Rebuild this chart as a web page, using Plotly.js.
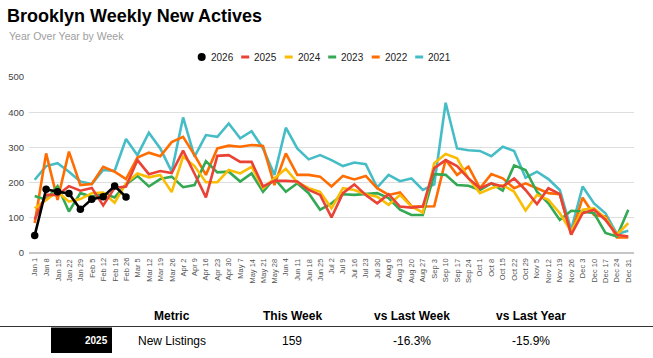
<!DOCTYPE html>
<html><head><meta charset="utf-8">
<script src="https://cdn.plot.ly/plotly-3.0.1.min.js"></script>
<style>html,body{margin:0;padding:0;background:#fff;}#chart{width:653px;height:358px;}</style>
</head><body><div id="chart"></div>
<script>
const weeks = ['Jan 1','Jan 8','Jan 15','Jan 22','Jan 29','Feb 5','Feb 12','Feb 19','Feb 26','Mar 5','Mar 12','Mar 19','Mar 26','Apr 2','Apr 9','Apr 16','Apr 23','Apr 30','May 7','May 14','May 21','May 28','Jun 4','Jun 11','Jun 18','Jun 25','Jul 2','Jul 9','Jul 16','Jul 23','Jul 30','Aug 6','Aug 13','Aug 20','Aug 27','Sep 3','Sep 10','Sep 17','Sep 24','Oct 1','Oct 8','Oct 15','Oct 22','Oct 29','Nov 5','Nov 12','Nov 19','Nov 26','Dec 3','Dec 10','Dec 17','Dec 24','Dec 31'];

const y2026 = [50,181,174,169,124,153,160,190,159];
const y2025 = [95,165,165,190,177,185,135,185,189,264,224,233,227,291,225,158,276,278,259,259,189,205,205,203,179,165,101,170,195,165,141,167,132,129,132,241,264,247,212,184,198,189,212,179,139,184,167,52,113,123,94,52,47];
const y2024 = [127,151,174,146,153,170,172,143,198,226,215,222,173,274,247,201,201,236,226,245,184,212,239,201,184,174,127,184,179,167,160,137,165,132,115,255,281,269,212,170,184,193,174,121,165,151,113,61,123,127,99,52,85];
const y2023 = [162,151,190,118,170,160,170,158,195,219,189,210,217,187,193,261,229,231,203,226,174,212,174,198,170,123,141,167,165,167,170,156,123,108,108,224,222,193,191,179,198,177,249,236,174,141,94,120,118,113,57,47,123];
const y2022 = [85,283,151,288,193,196,245,231,210,271,285,275,315,330,278,222,297,305,302,307,304,193,283,222,222,217,189,219,209,219,184,165,172,133,132,133,265,222,245,184,224,212,184,198,184,170,167,52,157,108,104,44,44];
const y2021 = [208,247,255,231,203,196,236,233,324,278,342,297,231,385,274,335,330,368,326,346,297,222,356,297,266,278,264,247,257,252,186,222,204,212,179,195,427,297,292,290,275,302,290,214,231,210,179,66,189,141,113,54,63];

const seriesNames = ['2026','2025','2024','2023','2022','2021'];
const seriesValues = [y2026,y2025,y2024,y2023,y2022,y2021];
const seriesColors = ['#000000','#EA4335','#FBBC04','#34A853','#FF6D01','#46BDC6'];

const tableHeaders = ['Metric','This Week','vs Last Week','vs Last Year'];
const tableRowLabel = '2025';
const tableRow = ['New Listings','159','-16.3%','-15.9%'];

const W = 653, H = 358, mL = 29, mR = 19, mT = 77, mB = 105;
const pW = W - mL - mR, pH = H - mT - mB;
const px = x => (x - mL) / pW;
const py = y => 1 - (y - mT) / pH;

const traces = [];
for (let i = seriesNames.length - 1; i >= 0; i--) {
  const vals = seriesValues[i];
  const xs = weeks.slice(0, vals.length);
  if (i === 0) {
    traces.push({x: xs, y: vals, type: 'scatter', mode: 'lines+markers', name: seriesNames[i],
      line: {color: seriesColors[i], width: 2.6}, marker: {color: seriesColors[i], size: 7.5}, showlegend: false});
  } else {
    traces.push({x: xs, y: vals, type: 'scatter', mode: 'lines', name: seriesNames[i],
      line: {color: seriesColors[i], width: 2.6}, showlegend: false});
  }
}

const shapes = [];
const annotations = [];
seriesNames.forEach((n, i) => {
  const cx = 201.7 + 43.5 * i, cy = 57;
  if (i === 0) {
    shapes.push({type: 'circle', xref: 'paper', yref: 'paper', x0: px(cx - 4), x1: px(cx + 4), y0: py(cy + 4), y1: py(cy - 4),
      fillcolor: seriesColors[i], line: {width: 0}});
  } else {
    shapes.push({type: 'line', xref: 'paper', yref: 'paper', x0: px(cx - 4), x1: px(cx + 4), y0: py(cy), y1: py(cy),
      line: {color: seriesColors[i], width: 3}});
  }
  annotations.push({text: n, xref: 'paper', yref: 'paper', x: px(cx + 7), y: py(cy), xanchor: 'left', yanchor: 'middle',
    showarrow: false, font: {family: 'Liberation Sans, Arial, sans-serif', size: 10, color: '#222'}});
});

// x-axis week labels, placed on the category axis scale (one per week)
weeks.forEach(w => {
  annotations.push({text: w, xref: 'x', yref: 'paper', x: w, y: py(257.5), xanchor: 'center', yanchor: 'top',
    textangle: -90, showarrow: false, borderpad: 0,
    font: {family: 'Liberation Sans, Arial, sans-serif', size: 7.5, color: '#555'}});
});

annotations.push({text: 'Year Over Year by Week', xref: 'paper', yref: 'paper', x: px(6.5), y: py(36), xanchor: 'left', yanchor: 'middle',
  showarrow: false, font: {family: 'Liberation Sans, Arial, sans-serif', size: 10.5, color: '#9e9e9e'}});

const colX = [172, 292, 412, 531];
tableHeaders.forEach((h, i) => {
  annotations.push({text: '<b>' + h + '</b>', xref: 'paper', yref: 'paper', x: px(colX[i]), y: py(316), xanchor: 'center', yanchor: 'middle',
    showarrow: false, font: {family: 'Liberation Sans, Arial, sans-serif', size: 12, color: '#000'}});
});
tableRow.forEach((c, i) => {
  annotations.push({text: c, xref: 'paper', yref: 'paper', x: px(colX[i]), y: py(341), xanchor: 'center', yanchor: 'middle',
    showarrow: false, font: {family: 'Liberation Sans, Arial, sans-serif', size: 12, color: '#000'}});
});
shapes.push({type: 'line', xref: 'paper', yref: 'paper', x0: px(0), x1: px(653), y0: py(326.5), y1: py(326.5), line: {color: '#333', width: 1}});
shapes.push({type: 'rect', xref: 'paper', yref: 'paper', x0: px(51), x1: px(112), y0: py(353), y1: py(327.5), fillcolor: '#000', line: {width: 0}});
annotations.push({text: '<b>' + tableRowLabel + '</b>', xref: 'paper', yref: 'paper', x: px(110), y: py(340.5), xanchor: 'right', yanchor: 'middle',
  showarrow: false, font: {family: 'Liberation Sans, Arial, sans-serif', size: 10, color: '#fff'}});

const layout = {
  width: W, height: H,
  margin: {l: mL, r: mR, t: mT, b: mB},
  paper_bgcolor: '#fff', plot_bgcolor: '#fff',
  font: {family: 'Liberation Sans, Arial, sans-serif', color: '#444'},
  title: {text: '<b>Brooklyn Weekly New Actives</b>', xref: 'container', yref: 'container', x: 7 / W, xanchor: 'left',
    y: 1 - 16 / H, yanchor: 'middle', font: {family: 'Liberation Sans, Arial, sans-serif', size: 18, color: '#000'}},
  showlegend: false,
  xaxis: {type: 'category', categoryorder: 'array', categoryarray: weeks, range: [-0.5, 52.5],
    showticklabels: false, showgrid: false, zeroline: false,
    showline: false, ticks: '', fixedrange: true},
  yaxis: {range: [0, 500], tickvals: [0,100,200,300,400,500], tickfont: {size: 9.5, color: '#444'},
    gridcolor: '#dedede', gridwidth: 1, zeroline: true, zerolinecolor: '#c6c6c6', zerolinewidth: 2.5,
    showline: false, ticks: '', ticklabelstandoff: 4, fixedrange: true},
  shapes: shapes,
  annotations: annotations
};

Plotly.newPlot('chart', traces, layout, {staticPlot: true, displayModeBar: false});
</script>
</body></html>
